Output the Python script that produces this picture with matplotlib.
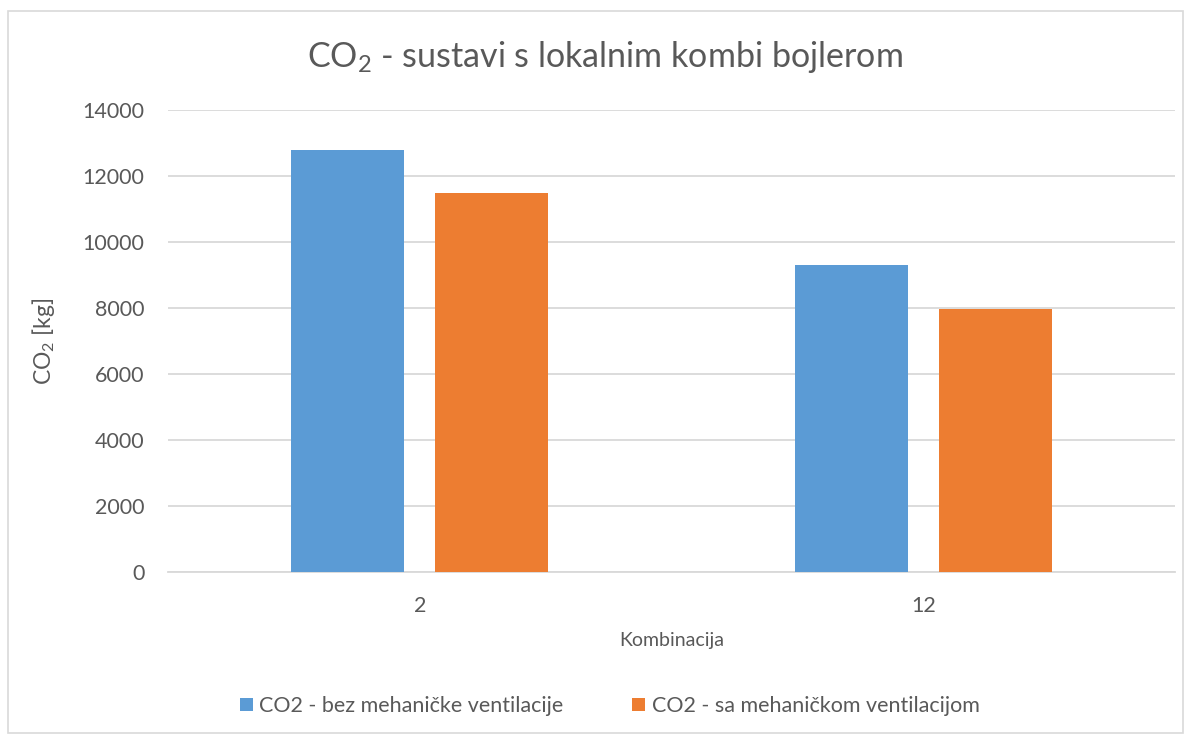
import numpy as np
import matplotlib.pyplot as plt
from matplotlib.patches import Rectangle

categories = ['2', '12']
bez_vent = [12780, 9300]
sa_vent = [11475, 7980]
series_names = ['CO2 - bez mehaničke ventilacije', 'CO2 - sa mehaničkom ventilacijom']

plt.rcParams['font.family'] = ['Lato', 'DejaVu Sans']
plt.rcParams['mathtext.fontset'] = 'custom'
plt.rcParams['mathtext.rm'] = 'Lato'
plt.rcParams['mathtext.it'] = 'Lato:italic'
plt.rcParams['mathtext.bf'] = 'Lato:bold'
gray = '#595959'

fig = plt.figure(figsize=(11.91, 7.37), dpi=100)
ax = fig.add_axes([0.141, 0.2239, 0.8456, 0.6268])

x = np.arange(len(categories))
w = 0.224
ax.bar(x - 0.143, bez_vent, w, color='#5B9BD5', label=series_names[0], zorder=3)
ax.bar(x + 0.143, sa_vent, w, color='#ED7D31', label=series_names[1], zorder=3)

ax.set_xlim(-0.5, 1.5)
ax.set_ylim(0, 14000)
ax.set_yticks(range(0, 14001, 2000))
ax.set_xticks(x)
ax.set_xticklabels(categories)
ax.tick_params(length=0, labelsize=15.5, colors=gray)
ax.tick_params(axis='y', pad=17)
ax.tick_params(axis='x', pad=17)
ax.yaxis.grid(True, color='#d9d9d9', lw=1.3, zorder=0)
for s in ['top', 'right', 'left']:
    ax.spines[s].set_visible(False)
ax.spines['bottom'].set_color('#d9d9d9')
ax.spines['bottom'].set_linewidth(1.3)

ax.set_xlabel('Kombinacija', fontsize=14, color=gray, labelpad=12)
ax.set_ylabel(r'CO$_\mathrm{2}$ [kg]', fontsize=16.5, color=gray, labelpad=18)
fig.text(0.508, 0.922, r'CO$_\mathrm{2}$ - sustavi s lokalnim kombi bojlerom', ha='center',
         va='center', fontsize=24.5, color=gray)

ax.legend(loc='center', bbox_to_anchor=(0.512, 0.042), bbox_transform=fig.transFigure,
          ncol=2, frameon=False, fontsize=15.5, labelcolor=gray, handlelength=0.6,
          handleheight=0.6, handletextpad=0.3, columnspacing=3.2)

fig.patches.append(Rectangle((0.007, 0.006), 0.986, 0.979, transform=fig.transFigure,
                             fill=False, edgecolor='#d9d9d9', lw=1.2))

fig.savefig('out.png', dpi=100)
